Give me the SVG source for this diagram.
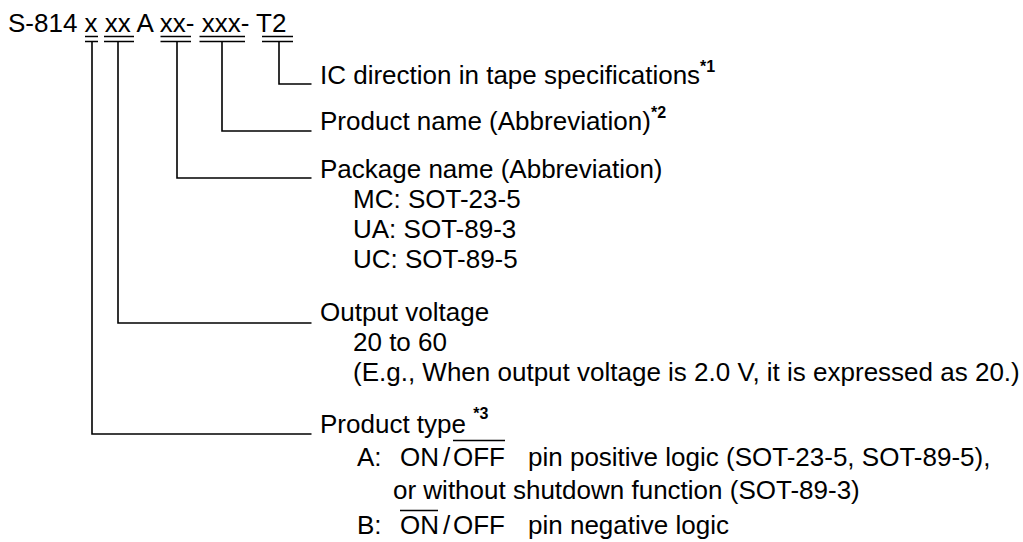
<svg xmlns="http://www.w3.org/2000/svg" width="1023" height="542" viewBox="0 0 1023 542">
<style>
text{font-family:"Liberation Sans",Arial,sans-serif;font-size:26px;fill:#000}
.sup{font-size:16px;font-weight:bold}
.ln{stroke:#000;stroke-width:1.6;fill:none}
</style>
<rect width="1023" height="542" fill="#fff"/>
<g id="code">
<text x="8" y="32">S-814 x xx A xx- xxx- T2</text>
</g>
<g id="connectors" class="ln">
<path d="M85 36.5H98M85 41.5H98"/>
<path d="M104 36.5H134M104 41.5H134"/>
<path d="M160.5 36.5H191M160.5 41.5H191"/>
<path d="M199.5 36.5H245M199.5 41.5H245"/>
<path d="M262 36.5H293M262 41.5H293"/>
<path d="M279 41.5V84H311.5"/>
<path d="M222 41.5V131H311.5"/>
<path d="M177 41.5V178H311.5"/>
<path d="M118 41.5V323H311.5"/>
<path d="M92 41.5V434H311.5"/>
</g>
<g id="ic-direction">
<text x="320" y="84">IC direction in tape specifications<tspan class="sup" dy="-12">*1</tspan></text>
</g>
<g id="product-name">
<text x="320" y="130">Product name (Abbreviation)<tspan class="sup" dy="-12">*2</tspan></text>
</g>
<g id="package-name">
<text x="320" y="178">Package name (Abbreviation)</text>
<text x="353" y="208">MC: SOT-23-5</text>
<text x="353" y="238">UA: SOT-89-3</text>
<text x="353" y="268">UC: SOT-89-5</text>
</g>
<g id="output-voltage">
<text x="320" y="321">Output voltage</text>
<text x="353" y="351">20 to 60</text>
<text x="353" y="381">(E.g., When output voltage is 2.0 V, it is expressed as 20.)</text>
</g>
<g id="product-type">
<text x="320" y="433">Product type <tspan class="sup" dy="-14">*3</tspan></text>
<text x="357" y="466">A:</text>
<text x="400" y="466">ON</text>
<text x="443" y="466">/</text>
<text x="453" y="466">OFF</text>
<text x="528" y="466">pin positive logic (SOT-23-5, SOT-89-5),</text>
<line class="ln" x1="453" y1="440.5" x2="505" y2="440.5"/>
<text x="393" y="499">or without shutdown function (SOT-89-3)</text>
<text x="357" y="534">B:</text>
<text x="400" y="534">ON</text>
<text x="443" y="534">/</text>
<text x="453" y="534">OFF</text>
<text x="528" y="534">pin negative logic</text>
<line class="ln" x1="400" y1="510.5" x2="438" y2="510.5"/>
</g>
</svg>
